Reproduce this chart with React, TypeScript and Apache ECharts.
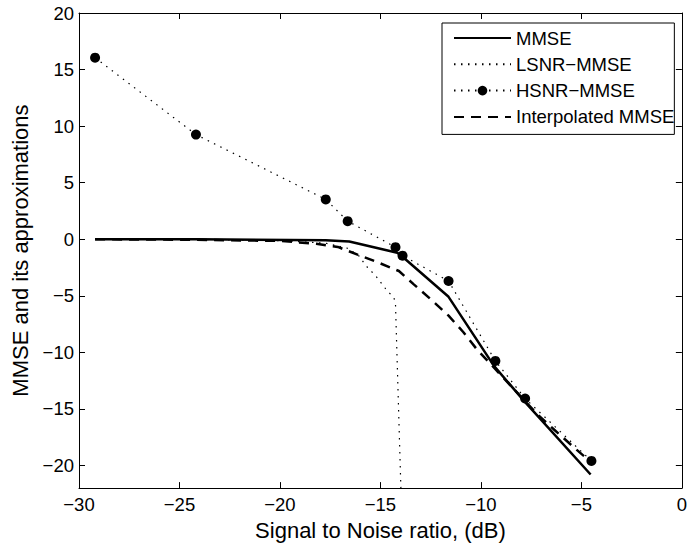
import React, { useEffect, useRef } from "react";
import * as echarts from "echarts";

const xTicks = [-30, -25, -20, -15, -10, -5, 0];
const yTicks = [-20, -15, -10, -5, 0, 5, 10, 15, 20];

const mmseX = [-29.2, -24.18, -17.72, -16.55, -14.16, -13.9, -11.61, -9.35, -7.8, -4.54];
const mmseY = [0, 0, -0.1, -0.2, -1.2, -1.55, -5.09, -11.2, -14.4, -20.8];

const lsnrX = [-29.2, -24.18, -20, -17.72, -16.63, -16.05, -15.73, -15.23, -14.66, -14.33, -14.25, -13.85];
const lsnrY = [0, -0.02, -0.12, -0.35, -0.8, -1.5, -2.32, -3.25, -4.57, -5.15, -5.74, -30];

const hsnrX = [-29.2, -24.18, -17.72, -16.63, -14.25, -13.9, -11.61, -9.28, -7.8, -4.5];
const hsnrY = [16.05, 9.25, 3.52, 1.6, -0.7, -1.45, -3.69, -10.76, -14.08, -19.6];

const interpX = [-29.2, -24.18, -20, -18.19, -17.12, -16.14, -15.15, -14.08, -13.34, -12.44, -11.61, -10.87, -10.22, -7.17, -6.35, -5.53, -4.5];
const interpY = [0, -0.05, -0.15, -0.4, -0.68, -1.36, -2.03, -2.81, -3.99, -5.39, -6.76, -8.22, -9.69, -15.52, -16.84, -18.15, -19.75];

const seriesNames = ["MMSE", "LSNR\u2212MMSE", "HSNR\u2212MMSE", "Interpolated MMSE"];

const FONT = "'Liberation Sans', Arial, Helvetica, sans-serif";
const minus = (v: number) => String(v).replace("-", "\u2212");
const pairs = (xs: number[], ys: number[]) => xs.map((x, i) => [x, ys[i]]);

export default function App() {
  const ref = useRef<HTMLDivElement>(null);
  useEffect(() => {
    if (!ref.current) return;
    const chart = echarts.init(ref.current, null, { renderer: "svg" });
    const baseX = {
      type: "value",
      min: -30,
      max: 0,
      interval: 5,
      splitLine: { show: false },
      axisLine: { onZero: false, lineStyle: { color: "#000", width: 1 } },
      axisTick: { inside: true, length: 6, lineStyle: { color: "#000" } },
    };
    const baseY = {
      type: "value",
      min: -22,
      max: 20,
      splitLine: { show: false },
      axisLine: { onZero: false, lineStyle: { color: "#000", width: 1 } },
      axisTick: { inside: true, length: 6, customValues: yTicks, lineStyle: { color: "#000" } },
    };
    const hiddenSymbol = { color: "rgba(0,0,0,0)", opacity: 0, borderWidth: 0 };
    chart.setOption({
      animation: false,
      backgroundColor: "#fff",
      textStyle: { fontFamily: FONT },
      grid: { left: 79, top: 13, right: 3, bottom: 53, containLabel: false },
      legend: {
        orient: "vertical",
        left: 442,
        top: 23,
        itemWidth: 57,
        itemHeight: 12,
        itemGap: 7.3,
        padding: [5.5, 0, 8, 11],
        backgroundColor: "#fff",
        borderColor: "#000",
        borderWidth: 1,
        borderRadius: 0,
        textStyle: { fontFamily: FONT, fontSize: 18.5, color: "#000" },
        data: [
          { name: seriesNames[0], itemStyle: hiddenSymbol },
          { name: seriesNames[1], itemStyle: hiddenSymbol },
          { name: seriesNames[2] },
          { name: seriesNames[3], itemStyle: hiddenSymbol },
        ],
      },
      xAxis: [
        {
          ...baseX,
          position: "bottom",
          name: "Signal to Noise ratio, (dB)",
          nameLocation: "middle",
          nameGap: 27,
          nameTextStyle: { fontFamily: FONT, fontSize: 22, color: "#000" },
          axisLabel: {
            fontFamily: FONT,
            fontSize: 18.5,
            color: "#000",
            margin: 7,
            formatter: minus,
            customValues: xTicks,
          },
        },
        { ...baseX, position: "top", axisLabel: { show: false } },
      ],
      yAxis: [
        {
          ...baseY,
          position: "left",
          name: "MMSE and its approximations",
          nameLocation: "middle",
          nameGap: 47,
          nameTextStyle: { fontFamily: FONT, fontSize: 22, color: "#000" },
          axisLabel: {
            fontFamily: FONT,
            fontSize: 18.5,
            color: "#000",
            margin: 5,
            formatter: minus,
            customValues: yTicks,
          },
        },
        { ...baseY, position: "right", axisLabel: { show: false } },
      ],
      series: [
        {
          name: seriesNames[0],
          type: "line",
          data: pairs(mmseX, mmseY),
          symbol: "none",
          lineStyle: { color: "#000", width: 2.5, type: "solid" },
          itemStyle: { color: "#000" },
        },
        {
          name: seriesNames[1],
          type: "line",
          data: pairs(lsnrX, lsnrY),
          symbol: "none",
          clip: true,
          lineStyle: { color: "#000", width: 1.2, type: [1.5, 5.5] },
          itemStyle: { color: "#000" },
        },
        {
          name: seriesNames[2],
          type: "line",
          data: pairs(hsnrX, hsnrY),
          symbol: "circle",
          symbolSize: 10,
          lineStyle: { color: "#000", width: 1.2, type: [1.5, 5.5] },
          itemStyle: { color: "#000" },
        },
        {
          name: seriesNames[3],
          type: "line",
          data: pairs(interpX, interpY),
          symbol: "none",
          lineStyle: { color: "#000", width: 2.5, type: [10, 7] },
          itemStyle: { color: "#000" },
        },
      ],
    });
    return () => chart.dispose();
  }, []);
  return (
    <div
      ref={ref}
      style={{ position: "fixed", left: 0, top: 0, width: 690, height: 546 }}
    />
  );
}
